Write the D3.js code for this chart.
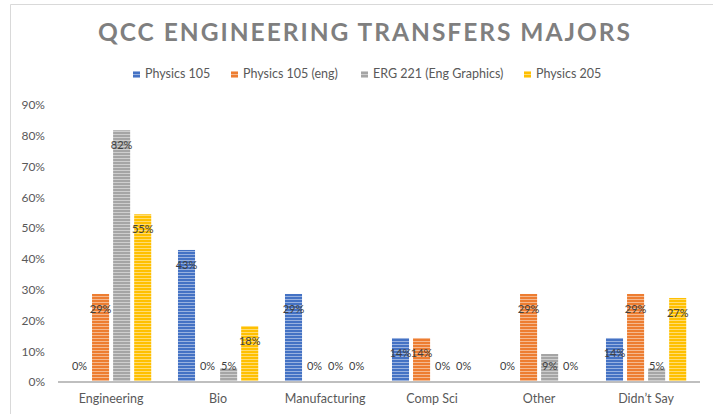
<!DOCTYPE html>
<html>
<head>
<meta charset="utf-8">
<script src="https://cdn.jsdelivr.net/npm/d3@7"></script>
<style>
  html, body { margin: 0; padding: 0; background: #fff; }
  svg { display: block; }
  text { font-family: Lato, "Open Sans", sans-serif; }
</style>
</head>
<body>
<svg id="chart" width="713" height="414"></svg>
<script>
const title = "QCC ENGINEERING TRANSFERS MAJORS";
const categories = ["Engineering", "Bio", "Manufacturing", "Comp Sci", "Other", "Didn\u2019t Say"];
const seriesNames = ["Physics 105", "Physics 105 (eng)", "ERG 221 (Eng Graphics)", "Physics 205"];
const physics105 =    [0.000, 0.429, 0.286, 0.143, 0.000, 0.143];
const physics105eng = [0.286, 0.000, 0.000, 0.143, 0.286, 0.286];
const erg221 =        [0.818, 0.045, 0.000, 0.000, 0.091, 0.045];
const physics205 =    [0.545, 0.182, 0.000, 0.000, 0.000, 0.273];
const seriesValues = [physics105, physics105eng, erg221, physics205];
const colors = ["#4472C4", "#ED7D31", "#A5A5A5", "#FFC000"];
const yTicks = [0, 0.1, 0.2, 0.3, 0.4, 0.5, 0.6, 0.7, 0.8, 0.9];

const svg = d3.select("#chart");

// frame
svg.append("path").attr("d", "M10.5,414 V4.5 H713")
  .attr("fill", "none").attr("stroke", "#d9d9d9").attr("stroke-width", 1);

// stripe patterns
const defs = svg.append("defs");
colors.forEach((c, i) => {
  const p = defs.append("pattern").attr("id", "pat" + i)
    .attr("patternUnits", "userSpaceOnUse").attr("width", 4).attr("height", 3);
  p.append("rect").attr("width", 4).attr("height", 3).attr("fill", c);
  p.append("rect").attr("y", 2).attr("width", 4).attr("height", 1)
    .attr("fill", d3.interpolateRgb(c, "#ffffff")(0.45));
});

// title
svg.append("text").attr("x", 364).attr("y", 35)
  .attr("text-anchor", "middle").attr("dominant-baseline", "middle")
  .attr("font-family", "'Open Sans', sans-serif")
  .attr("font-size", 24.5).attr("font-weight", 700).attr("fill", "#7f7f7f")
  .attr("textLength", 532).attr("lengthAdjust", "spacing")
  .text(title);

// scales
const x0 = d3.scaleBand().domain(categories).range([57.6, 699.6])
  .paddingInner(0.25).paddingOuter(0.125);
const x1 = d3.scaleBand().domain(d3.range(seriesNames.length))
  .range([0, x0.bandwidth()]).paddingInner(0.19);
const y = d3.scaleLinear().domain([0, 0.9]).range([382, 105]);

// legend
const legendX = [133, 231, 361, 524];
const lg = svg.append("g");
seriesNames.forEach((s, i) => {
  lg.append("rect").attr("x", legendX[i]).attr("y", 71).attr("width", 7).attr("height", 7)
    .attr("fill", `url(#pat${i})`);
  lg.append("text").attr("x", legendX[i] + 12).attr("y", 75)
    .attr("dominant-baseline", "middle").attr("font-size", 12.5).attr("fill", "#595959")
    .text(s);
});

// y axis
const yAxis = d3.axisLeft(y).tickValues(yTicks).tickFormat(d3.format(".0%"))
  .tickSize(0).tickPadding(13);
const yg = svg.append("g").attr("transform", "translate(58,0)").call(yAxis);
yg.select(".domain").remove();
yg.selectAll("text").attr("font-size", 12).attr("fill", "#595959")
  .attr("font-family", "Lato, sans-serif");

// bars
const groups = svg.append("g").selectAll("g").data(categories).join("g")
  .attr("transform", d => `translate(${x0(d)},0)`);
groups.each(function(cat, ci) {
  const g = d3.select(this);
  seriesValues.forEach((vals, si) => {
    const v = vals[ci];
    const bx = x1(si), bw = x1.bandwidth();
    if (v > 0) {
      g.append("rect").attr("x", bx).attr("y", y(v)).attr("width", bw)
        .attr("height", y(0) - y(v)).attr("fill", `url(#pat${si})`);
    }
    const ly = Math.min(y(v) + 16, y(0) - 15);
    g.append("text").attr("x", bx + bw / 2).attr("y", ly)
      .attr("text-anchor", "middle").attr("dominant-baseline", "middle")
      .attr("font-size", 11).attr("fill", "#404040")
      .text(d3.format(".0%")(v));
  });
});

// x axis
const xAxis = d3.axisBottom(x0).tickSize(0).tickPadding(12);
const xg = svg.append("g").attr("transform", "translate(0,382)").call(xAxis);
xg.select(".domain").attr("stroke", "#bfbfbf").attr("stroke-width", 2)
  .attr("d", "M58,0 H700");
xg.selectAll("text").attr("font-size", 12.5).attr("fill", "#595959")
  .attr("font-family", "Lato, sans-serif");
</script>
</body>
</html>
